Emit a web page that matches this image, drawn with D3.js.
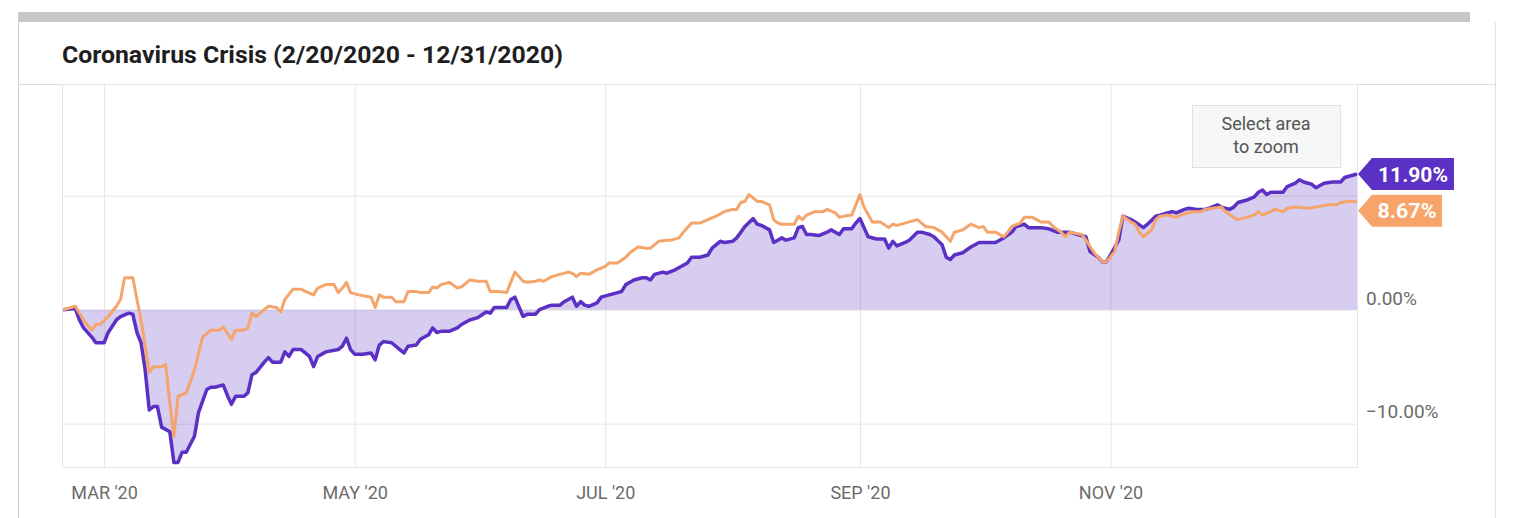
<!DOCTYPE html>
<html>
<head>
<meta charset="utf-8">
<script src="https://cdn.jsdelivr.net/npm/d3@7"></script>
<style>
  html, body { margin: 0; padding: 0; background: #fff; }
  svg { display: block; font-family: Roboto, "Liberation Sans", sans-serif; }
</style>
</head>
<body>
<svg id="chart" width="1535" height="518"></svg>
<script>
// days since 2/20/2020, cumulative return in %
const purpleSeries = [
  [0,0],[3,0.1],[4,-0.9],[5,-1.6],[7,-2.4],[8,-2.9],[10,-2.9],[11,-2.0],[13,-0.9],[14,-0.6],
  [16,-0.3],[17,-0.4],[18,-2.0],[19,-2.9],[20,-5.3],[21,-8.8],[22,-8.5],[23,-8.5],[24,-10.3],[26,-10.7],
  [27,-13.4],[28,-13.4],[29,-12.5],[30,-12.5],[32,-11.1],[33,-9.0],[35,-7.0],[36,-6.8],[37,-6.8],[39,-6.6],
  [40,-7.5],[41,-8.3],[42,-7.6],[44,-7.6],[45,-7.3],[46,-5.7],[47,-5.5],[49,-4.6],[50,-4.2],[51,-4.6],
  [53,-4.6],[54,-3.7],[55,-4.1],[56,-3.5],[58,-3.5],[60,-4.1],[61,-5.0],[62,-4.1],[64,-3.7],[67,-3.5],
  [68,-3.2],[69,-2.5],[70,-3.5],[71,-3.9],[73,-3.9],[75,-3.8],[76,-4.4],[77,-3.1],[78,-2.8],[80,-2.9],
  [82,-3.5],[83,-3.8],[84,-3.2],[86,-3.1],[87,-2.6],[89,-2.2],[90,-1.6],[91,-2.0],[92,-1.9],[94,-1.9],
  [96,-1.6],[97,-1.3],[99,-0.9],[101,-0.7],[103,-0.2],[104,-0.3],[105,0.2],[107,0.2],[108,0.2],[109,0.9],
  [110,1.1],[112,-0.6],[113,-0.4],[115,-0.4],[116,0.0],[118,0.3],[119,0.4],[121,0.4],[122,0.7],[124,1.1],
  [125,0.3],[126,0.7],[127,0.4],[128,0.3],[130,0.6],[131,1.1],[133,1.3],[135,1.5],[136,1.6],[137,2.2],
  [139,2.6],[141,2.8],[142,2.8],[143,2.6],[144,3.1],[146,3.3],[147,3.2],[149,3.5],[150,3.7],[152,4.1],
  [153,4.6],[155,4.6],[157,4.8],[158,5.4],[160,6.0],[161,5.9],[163,6.0],[164,6.3],[165,6.8],[166,7.3],
  [168,8.0],[169,7.5],[170,7.4],[172,7.0],[173,5.9],[174,6.1],[175,6.3],[176,6.1],[178,6.3],[179,7.2],
  [180,7.3],[181,6.6],[182,6.6],[184,6.5],[186,6.8],[187,7.0],[189,6.6],[190,7.1],[192,7.1],[193,7.6],
  [194,8.0],[196,6.4],[198,6.2],[200,6.2],[201,5.4],[202,6.0],[203,5.6],[205,5.9],[206,6.1],[208,6.8],
  [209,6.8],[211,6.6],[212,6.4],[214,5.7],[215,4.6],[216,4.4],[217,4.8],[219,5.0],[221,5.5],[223,5.9],
  [225,5.9],[227,5.9],[228,6.1],[229,6.3],[231,6.8],[232,7.3],[234,7.5],[235,7.2],[238,7.2],[240,7.1],
  [242,6.8],[243,6.8],[245,6.8],[247,6.6],[249,6.4],[250,5.1],[252,4.6],[253,4.2],[254,4.2],[255,4.8],
  [257,6.1],[258,8.2],[260,7.9],[261,7.7],[263,7.2],[264,7.5],[266,8.2],[267,8.3],[269,8.5],[270,8.6],
  [271,8.5],[273,8.8],[274,8.9],[276,8.8],[278,8.8],[279,8.9],[281,9.2],[282,9.0],[284,8.8],[285,9.0],
  [286,9.4],[288,9.6],[290,9.9],[291,10.3],[292,10.5],[293,10.1],[294,10.3],[295,10.3],[297,10.3],[298,10.8],
  [300,11.1],[301,11.4],[302,11.2],[304,11.0],[305,10.7],[307,11.1],[309,11.2],[311,11.2],[312,11.6],[315,11.9]
];

const orangeSeries = [
  [0,0],[3,0.3],[5,-0.9],[7,-1.8],[8,-1.3],[9,-1.3],[11,-0.6],[13,0.3],[14,0.9],[15,2.8],
  [17,2.8],[18,0.9],[19,-0.9],[21,-5.5],[22,-5.0],[24,-5.0],[25,-4.8],[26,-8.2],[27,-11.1],[28,-7.6],
  [30,-7.3],[32,-5.3],[33,-3.8],[34,-2.4],[36,-1.8],[38,-1.8],[39,-1.5],[41,-2.6],[42,-1.8],[44,-1.8],
  [45,-1.6],[46,-0.3],[47,-0.6],[49,0.0],[50,0.3],[52,0.2],[53,-0.2],[54,0.9],[56,1.8],[58,1.8],
  [59,1.6],[61,1.3],[62,1.9],[64,2.2],[66,2.2],[67,1.5],[68,1.9],[69,2.4],[70,1.5],[72,1.3],
  [75,1.1],[76,0.2],[77,1.3],[78,1.1],[80,1.1],[81,0.7],[83,0.7],[84,1.6],[86,1.6],[87,1.5],
  [89,1.5],[90,2.0],[91,1.9],[92,2.2],[94,2.4],[96,1.9],[97,2.0],[99,2.6],[101,2.5],[103,2.5],
  [104,1.6],[106,1.6],[108,1.5],[109,2.4],[110,3.3],[112,2.5],[113,2.4],[115,2.5],[116,2.6],[117,2.5],
  [119,2.9],[121,3.1],[123,3.3],[124,3.2],[125,2.9],[126,3.2],[128,3.1],[130,3.5],[132,3.8],[133,4.1],
  [135,4.1],[137,4.6],[138,5.0],[140,5.5],[142,5.4],[143,5.4],[145,6.0],[147,6.1],[148,6.1],[150,6.3],
  [151,6.8],[153,7.6],[155,7.6],[157,7.9],[159,8.2],[161,8.6],[163,8.8],[164,8.8],[165,9.4],[166,9.5],
  [167,10.1],[169,9.5],[170,9.5],[172,9.2],[173,7.9],[174,7.6],[175,7.5],[178,7.5],[179,8.2],[180,7.9],
  [181,8.3],[183,8.6],[185,8.6],[186,8.8],[188,8.5],[189,8.1],[190,8.2],[192,8.3],[193,9.2],[194,10.1],
  [195,9.0],[197,7.7],[199,7.7],[201,7.2],[202,7.5],[203,7.4],[206,7.7],[208,7.9],[209,7.6],[210,7.3],
  [212,7.2],[214,6.8],[216,6.0],[217,6.8],[219,7.0],[221,7.5],[223,7.2],[224,7.3],[225,6.8],[227,6.8],
  [229,6.4],[230,6.8],[231,7.3],[233,7.6],[234,8.1],[236,8.1],[238,7.7],[240,7.7],[241,7.3],[243,6.8],
  [244,6.4],[245,6.8],[248,6.6],[249,6.1],[251,5.0],[252,4.6],[253,4.2],[254,4.2],[256,5.1],[257,6.8],
  [258,8.2],[260,7.7],[261,7.5],[262,6.8],[263,6.4],[265,7.0],[266,7.9],[267,8.2],[269,8.3],[271,8.1],
  [272,8.3],[274,8.5],[275,8.6],[277,8.6],[278,8.8],[280,8.9],[282,9.0],[283,8.6],[285,8.1],[286,7.9],
  [288,8.1],[290,8.3],[291,8.6],[292,8.3],[294,8.6],[295,8.8],[297,8.6],[298,8.9],[300,9.0],[303,8.9],
  [305,9.0],[308,9.2],[310,9.2],[311,9.4],[313,9.5],[315,9.5]
];

const chartTitle = "Coronavirus Crisis (2/20/2020 - 12/31/2020)";
const dateRange = ["2020-02-20", "2020-12-31"];
const xTickDates = ["2020-03-01", "2020-05-01", "2020-07-01", "2020-09-01", "2020-11-01"];
const xTickLabels = ["MAR '20", "MAY '20", "JUL '20", "SEP '20", "NOV '20"];
const yGridValues = [-10, 0, 10];
const yLabelValues = [-10, 0];
const yDomain = [-13.8, 19.8];
const endValues = [11.90, 8.67];
const endLabels = ["11.90%", "8.67%"];

const parse = d3.timeParse("%Y-%m-%d");
const start = parse(dateRange[0]);

const plot = {left: 63, right: 1358, top: 84, bottom: 467};
const purple = "#5b30c4";
const orange = "#f5a46c";
const grid = "#e6e6e6";

const svg = d3.select("#chart");

// panel frame
svg.append("rect").attr("x", 18).attr("y", 12).attr("width", 1452).attr("height", 10).attr("fill", "#c6c6c6");
svg.append("line").attr("x1", 18.5).attr("x2", 18.5).attr("y1", 12).attr("y2", 518).attr("stroke", "#cfcfcf");
svg.append("line").attr("x1", 1495.5).attr("x2", 1495.5).attr("y1", 22).attr("y2", 518).attr("stroke", "#e2e2e2");
svg.append("line").attr("x1", 18).attr("x2", 1495).attr("y1", 84.5).attr("y2", 84.5).attr("stroke", "#dcdcdc");

svg.append("text")
    .attr("x", 62).attr("y", 63)
    .attr("font-size", 23).attr("font-weight", 700).attr("fill", "#1e1e1e")
    .attr("textLength", 501).attr("lengthAdjust", "spacingAndGlyphs")
    .text(chartTitle);

const x = d3.scaleTime()
    .domain(dateRange.map(parse))
    .range([plot.left, plot.right - 1]);

const y = d3.scaleLinear()
    .domain(yDomain)
    .range([plot.bottom, plot.top]);

// grid lines
const xGrid = svg.append("g")
    .attr("transform", `translate(0,${plot.bottom})`)
    .call(d3.axisBottom(x).tickValues(xTickDates.map(parse)).tickSize(-(plot.bottom - plot.top)).tickFormat(""));
xGrid.select(".domain").remove();
xGrid.selectAll("line").attr("stroke", grid);

const yGrid = svg.append("g")
    .attr("transform", `translate(${plot.left},0)`)
    .call(d3.axisLeft(y).tickValues(yGridValues).tickSize(-(plot.right - plot.left)).tickFormat(""));
yGrid.select(".domain").remove();
yGrid.selectAll("line").attr("stroke", grid);

svg.append("rect")
    .attr("x", plot.left - 0.5).attr("y", plot.top + 0.5)
    .attr("width", plot.right - plot.left).attr("height", plot.bottom - plot.top)
    .attr("fill", "none").attr("stroke", grid);

// area + lines
const toPoint = d => ({date: d3.timeDay.offset(start, d[0]), value: d[1]});
const purpleData = purpleSeries.map(toPoint);
const orangeData = orangeSeries.map(toPoint);

const area = d3.area()
    .x(d => x(d.date))
    .y0(y(0))
    .y1(d => y(d.value));

svg.append("path")
    .datum(purpleData)
    .attr("fill", "rgba(98, 60, 200, 0.26)")
    .attr("d", area);

const line = d3.line()
    .x(d => x(d.date))
    .y(d => y(d.value));

svg.append("path")
    .datum(purpleData)
    .attr("fill", "none")
    .attr("stroke", purple)
    .attr("stroke-width", 3.5)
    .attr("stroke-linejoin", "round")
    .attr("d", line);

svg.append("path")
    .datum(orangeData)
    .attr("fill", "none")
    .attr("stroke", orange)
    .attr("stroke-width", 3)
    .attr("stroke-linejoin", "round")
    .attr("d", line);

// axes labels
const xAxis = svg.append("g")
    .attr("transform", `translate(0,${plot.bottom})`)
    .call(d3.axisBottom(x)
        .tickValues(xTickDates.map(parse))
        .tickSize(0)
        .tickPadding(19)
        .tickFormat((d, i) => xTickLabels[i]));
xAxis.select(".domain").remove();
xAxis.selectAll("text")
    .attr("font-size", 18)
    .attr("font-family", "Roboto, sans-serif")
    .attr("fill", "#6b6b6b");

const yAxis = svg.append("g")
    .attr("transform", `translate(${plot.right},0)`)
    .call(d3.axisRight(y)
        .tickValues(yLabelValues)
        .tickSize(0)
        .tickPadding(8)
        .tickFormat(d => d3.format(".2f")(d) + "%"));
yAxis.select(".domain").remove();
yAxis.selectAll("text")
    .attr("font-size", 19)
    .attr("font-family", "Roboto, sans-serif")
    .attr("fill", "#6b6b6b")
    .attr("dy", "-0.3em");

// zoom hint box
const hint = svg.append("g");
hint.append("rect")
    .attr("x", 1192.5).attr("y", 105.5).attr("width", 148).attr("height", 62)
    .attr("fill", "#f6f7f7").attr("stroke", "#e0e0e0");
hint.selectAll("text")
    .data(["Select area", "to zoom"])
    .join("text")
    .attr("x", 1266)
    .attr("y", (d, i) => 130 + i * 23)
    .attr("text-anchor", "middle")
    .attr("font-size", 18)
    .attr("fill", "#555")
    .text(d => d);

// end value flags
const flagColors = [purple, "#f7a46a"];
const flagWidths = [96, 84];
const flags = svg.append("g")
    .selectAll("g")
    .data(endValues)
    .join("g")
    .attr("transform", d => `translate(${plot.right},${y(d)})`);

flags.append("path")
    .attr("fill", (d, i) => flagColors[i])
    .attr("d", (d, i) => {
        const w = flagWidths[i], h = 16;
        return `M0,0L14,${-h}L${w},${-h}L${w},${h}L14,${h}Z`;
    });

flags.append("text")
    .attr("x", (d, i) => 14 + (flagWidths[i] - 14) / 2)
    .attr("y", 7.5)
    .attr("text-anchor", "middle")
    .attr("font-size", 21)
    .attr("font-weight", 700)
    .attr("fill", "#fff")
    .attr("textLength", (d, i) => i === 0 ? 70 : 59)
    .attr("lengthAdjust", "spacingAndGlyphs")
    .text((d, i) => endLabels[i]);
</script>
</body>
</html>
